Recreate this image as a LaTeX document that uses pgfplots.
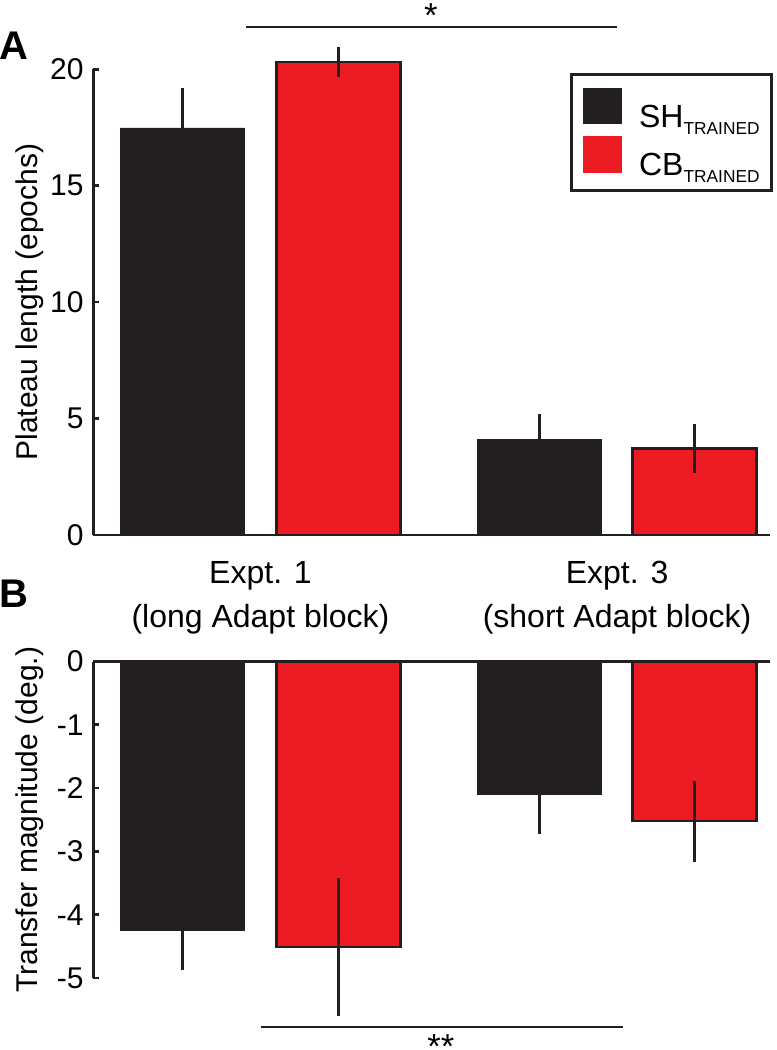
\documentclass[border=0pt]{standalone}
\usepackage{pgfplots}
\pgfplotsset{compat=1.18}
\usepackage{fontspec}
\setmainfont{Liberation Sans}
\definecolor{barblack}{HTML}{231F20}
\definecolor{barred}{HTML}{ED1C24}
\newcommand\sub[1]{\raisebox{-5.5pt}{\fontsize{13}{13}\selectfont #1}}
\pgfplotsset{
  common/.style={
    scale only axis, width=507.375pt, xmin=-0.4684, xmax=1.429, clip=false,
    axis y line*=left,
    axis line style={line width=2pt, barblack, -},
    tick style={line width=2pt, color=barblack},
    tick align=inside, major tick length=4pt,
    xtick style={draw=none},
    ybar, bar width=0.348, bar shift=0pt,
    ticklabel style={font=\fontsize{22.5}{27}\selectfont},
    yticklabel style={xshift=-4pt},
    /pgf/number format/assume math mode=true,
    y label style={at={(axis description cs:-0.0939,0.5)}, anchor=center, font=\fontsize{22.5}{27}\selectfont},
  },
  eb/.style={error bars/y dir=both, error bars/y explicit, error bars/error mark=none,
    error bars/error bar style={line width=2pt, barblack}},
  mylegimg/.style={legend image code/.code={\path[##1,draw=none] (0pt,-5.5pt) rectangle (29pt,22pt);}},
}
\pgfplotstableread{
x y e
-0.219 17.48 1.72
0.783 4.11 1.07
}\Ablack
\pgfplotstableread{
x y e
0.219 20.32 0.64
1.217 3.72 1.04
}\Ared
\pgfplotstableread{
x y e
-0.219 -4.24 0.63
0.783 -2.10 0.62
}\Bblack
\pgfplotstableread{
x y e
0.219 -4.51 1.09
1.217 -2.52 0.64
}\Bred
\begin{document}
\begin{tikzpicture}
\path[use as bounding box] (0pt,0pt) rectangle (582pt,-787.5pt);
\begin{axis}[common,
  at={(70.125pt,-401.25pt)}, anchor=south west,
  height=349.275pt,
  ymin=0, ymax=20, ytick={0,5,10,15,20},
  axis x line*=bottom,
  xtick={0,1},
  xticklabels={{Expt. 1\\(long Adapt block)},{Expt. 3\\(short Adapt block)}},
  xticklabel style={align=center, font=\fontsize{24}{33}\selectfont, yshift=-12pt},
  ylabel={Plateau length (epochs)},
  legend style={at={(axis description cs:1.0044,0.992)}, anchor=north east,
    draw=barblack, line width=2pt, fill=white,
    font=\fontsize{24}{28}\selectfont,
    inner xsep=9pt, inner ysep=10pt, row sep=5pt,
    nodes={inner sep=0pt},
    /tikz/every odd column/.style={column sep=12.75pt}},
  legend cell align=left,
]
\addplot[fill=barblack, draw=barblack, mylegimg, eb] table[x=x, y=y, y error=e] {\Ablack};
\addplot[fill=barred, draw=barblack, line width=2pt, mylegimg, eb] table[x=x, y=y, y error=e] {\Ared};
\legend{SH\sub{TRAINED}, CB\sub{TRAINED}}
\draw[line width=2pt, barblack] (axis cs:-0.041,21.82) -- (axis cs:1.0,21.82);
\node[font=\fontsize{26}{30}\selectfont] at (axis cs:0.478,22.3) {*};
\node[font=\bfseries\fontsize{30}{30}\selectfont] at (axis description cs:-0.118,1.050) {A};
\end{axis}
\begin{axis}[common,
  at={(70.125pt,-733.5pt)}, anchor=south west,
  height=237.375pt,
  ymin=-5, ymax=0, ytick={-5,-4,-3,-2,-1,0},
  axis x line*=top,
  xtick=\empty,
  ylabel={Transfer magnitude (deg.)},
]
\addplot[fill=barblack, draw=barblack, eb] table[x=x, y=y, y error=e] {\Bblack};
\addplot[fill=barred, draw=barblack, line width=2pt, eb] table[x=x, y=y, y error=e] {\Bred};
\draw[line width=2pt, barblack] (axis cs:0,-5.774) -- (axis cs:1.017,-5.774);
\node[font=\fontsize{26}{30}\selectfont] at (axis cs:0.506,-6.08) {**};
\node[font=\bfseries\fontsize{30}{30}\selectfont] at (axis description cs:-0.118,1.213) {B};
\end{axis}
\end{tikzpicture}
\end{document}
